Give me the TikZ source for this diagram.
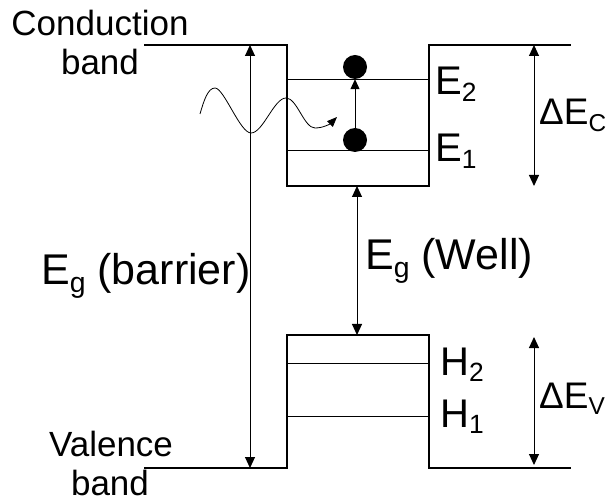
\documentclass[tikz,border=0pt]{standalone}
\usepackage{fontspec}
\usepackage{graphicx}
\setmainfont{Liberation Sans}
\usetikzlibrary{arrows.meta}
\newcommand\lowsub[1]{\raisebox{-0.17em}{\scalebox{0.66}{#1}}}
\begin{document}
\begin{tikzpicture}[x=1pt,y=-1pt,
  bandline/.style={line width=2pt, line join=miter},
  levelline/.style={line width=1pt},
  dimarrow/.style={line width=1pt, {Triangle[length=11pt,width=10pt]}-{Triangle[length=11pt,width=10pt]}},
  onearrow/.style={line width=1pt, -{Triangle[length=10pt,width=9pt]}},
  wavearrow/.style={line width=0.8pt, -{Triangle[length=10pt,width=8pt]}},
  electron/.style={circle, fill=black, minimum size=24pt, inner sep=0pt},
  lbl/.style={inner sep=0pt, anchor=base west},
  bandtext/.style={inner sep=0pt, anchor=base, font=\fontsize{35}{40}\selectfont},
  big/.style={font=\fontsize{43}{50}\selectfont},
  lev/.style={font=\fontsize{40}{48}\selectfont},
  dtext/.style={font=\fontsize{37}{44}\selectfont}]
\useasboundingbox (0,0) rectangle (610,502);
% conduction band
\coordinate (cbL) at (144,45);
\coordinate (cwTL) at (287,45);
\coordinate (cwBL) at (287,186);
\coordinate (cwBR) at (429,186);
\coordinate (cwTR) at (429,45);
\coordinate (cbR) at (571,45);
\draw[bandline] (cbL) -- (cwTL) -- (cwBL) -- (cwBR) -- (cwTR) -- (cbR);
\coordinate (e2L) at (287,80);
\coordinate (e2R) at (429,80);
\coordinate (e1L) at (287,151);
\coordinate (e1R) at (429,151);
\draw[levelline] (e2L) -- (e2R);
\draw[levelline] (e1L) -- (e1R);
% valence band
\coordinate (vbL) at (144,468);
\coordinate (vwBL) at (287,468);
\coordinate (vwTL) at (287,335);
\coordinate (vwTR) at (429,335);
\coordinate (vwBR) at (429,468);
\coordinate (vbR) at (571,468);
\draw[bandline] (vbL) -- (vwBL) -- (vwTL) -- (vwTR) -- (vwBR) -- (vbR);
\coordinate (h2L) at (287,363);
\coordinate (h2R) at (429,363);
\coordinate (h1L) at (287,416);
\coordinate (h1R) at (429,416);
\draw[levelline] (h2L) -- (h2R);
\draw[levelline] (h1L) -- (h1R);
% electrons
\node[electron] (el2) at (355,67) {};
\node[electron] (el1) at (355,140) {};
\draw[onearrow] (el1.north) -- (el2.south);
% photon wave
\coordinate (w0) at (200,114);
\coordinate (wtip) at (337,117);
\draw[wavearrow] (w0) .. controls (204,100) and (208,88) .. (215,88)
  .. controls (224,88) and (240,133) .. (251,133)
  .. controls (263,133) and (274,98) .. (286,98)
  .. controls (297,98) and (304,128) .. (315,128)
  .. controls (323,128) and (330,124) .. (wtip);
% dimension arrows
\coordinate (egT) at (250,45);
\coordinate (egB) at (250,468);
\draw[dimarrow] (egT) -- (egB);
\coordinate (ewT) at (357,186);
\coordinate (ewB) at (357,335);
\draw[dimarrow] (ewT) -- (ewB);
\coordinate (dcT) at (534,45);
\coordinate (dcB) at (534,186);
\draw[dimarrow] (dcT) -- (dcB);
\coordinate (dvT) at (534,337);
\coordinate (dvB) at (534,465);
\draw[dimarrow] (dvT) -- (dvB);
% labels
\node[bandtext] (cond1) at (100,36) {Conduction};
\node[bandtext] (cond2) at (100,75) {band};
\node[bandtext] (val1) at (111,456) {Valence};
\node[bandtext] (val2) at (110,495) {band};
\node[lbl,big] (egbar) at (41,285) {E\lowsub{g} (barrier)};
\node[lbl,big] (egwell) at (365,270) {E\lowsub{g} (Well)};
\node[lbl,lev] (E2) at (435,95) {E\lowsub{2}};
\node[lbl,lev] (E1) at (435,162) {E\lowsub{1}};
\node[lbl,lev] (H2) at (440,375) {H\lowsub{2}};
\node[lbl,lev] (H1) at (440,427) {H\lowsub{1}};
\node[lbl,dtext] (dEC) at (539,125) {ΔE\lowsub{C}};
\node[lbl,dtext] (dEV) at (539,408) {ΔE\lowsub{V}};
\end{tikzpicture}
\end{document}
